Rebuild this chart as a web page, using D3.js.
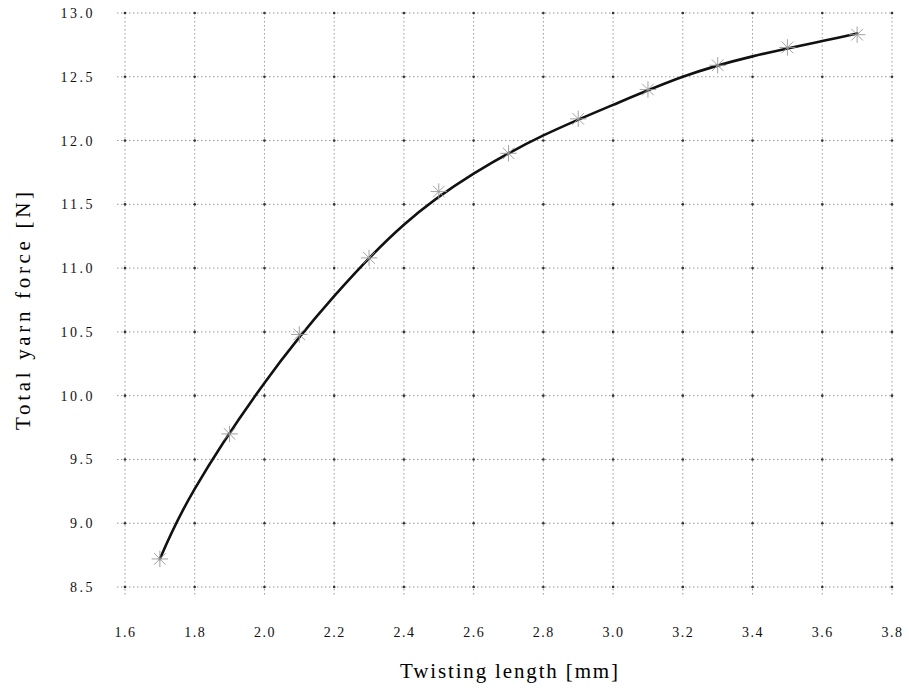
<!DOCTYPE html>
<html>
<head>
<meta charset="utf-8">
<script src="https://cdn.jsdelivr.net/npm/d3@7"></script>
<style>
  html, body { margin: 0; padding: 0; background: #fff; }
  svg { display: block; }
</style>
</head>
<body>
<svg id="chart" width="909" height="690"></svg>
<script>
// ---- data ----
const xTicks = [1.6, 1.8, 2.0, 2.2, 2.4, 2.6, 2.8, 3.0, 3.2, 3.4, 3.6, 3.8];
const yTicks = [8.5, 9.0, 9.5, 10.0, 10.5, 11.0, 11.5, 12.0, 12.5, 13.0];
// measured points (asterisk markers)
const markerX = [1.7, 1.9, 2.1, 2.3, 2.5, 2.7, 2.9, 3.1, 3.3, 3.5, 3.7];
const markerY = [8.72, 9.70, 10.48, 11.08, 11.60, 11.90, 12.17, 12.40, 12.59, 12.73, 12.83];
// smooth fitted curve
const curveX = [1.7, 1.8, 2.0, 2.2, 2.4, 2.6, 2.8, 3.0, 3.2, 3.4, 3.6, 3.7];
const curveY = [8.72, 9.27, 10.10, 10.78, 11.34, 11.74, 12.04, 12.28, 12.50, 12.66, 12.78, 12.84];
const xTitle = "Twisting length [mm]";
const yTitle = "Total yarn force [N]";

const FONT = "'Liberation Serif', 'Times New Roman', Times, 'DejaVu Serif', serif";

// ---- layout ----
const svg = d3.select("#chart");
const x = d3.scaleLinear().domain([1.6, 3.8]).range([125, 892]);
const y = d3.scaleLinear().domain([8.5, 13.0]).range([587, 13]);
const fmt = d3.format(".1f");

const grid = svg.append("g");
grid.selectAll("line.h").data(yTicks).join("line")
  .attr("x1", x.range()[0] - 8).attr("x2", x.range()[1])
  .attr("y1", d => y(d)).attr("y2", d => y(d))
  .attr("stroke", "#9a9a9a").attr("stroke-width", 1)
  .attr("stroke-dasharray", "1.5,2.5");
grid.selectAll("line.v").data(xTicks).join("line")
  .attr("y1", y.range()[1]).attr("y2", y.range()[0] + 8)
  .attr("x1", d => x(d)).attr("x2", d => x(d))
  .attr("stroke", "#9a9a9a").attr("stroke-width", 1)
  .attr("stroke-dasharray", "1.5,2.5");
const inter = [];
xTicks.forEach(a => yTicks.forEach(b => inter.push([a, b])));
grid.selectAll("circle.i").data(inter).join("circle")
  .attr("cx", d => x(d[0])).attr("cy", d => y(d[1])).attr("r", 1.3)
  .attr("fill", "#333");

const xAxis = d3.axisBottom(x).tickValues(xTicks).tickFormat(fmt).tickSize(0).tickPadding(0);
const gx = svg.append("g").attr("transform", `translate(0,${y.range()[0] + 46})`).call(xAxis);
gx.attr("font-family", null);
gx.select(".domain").remove();
gx.selectAll("text").style("font-family", FONT).style("font-size", "14px")
  .attr("letter-spacing", 1.5).attr("fill", "#111").attr("dy", "0.3em");

const yAxis = d3.axisLeft(y).tickValues(yTicks).tickFormat(fmt).tickSize(0).tickPadding(0);
const gy = svg.append("g").attr("transform", `translate(95,0)`).call(yAxis);
gy.attr("font-family", null);
gy.select(".domain").remove();
gy.selectAll("text").style("font-family", FONT).style("font-size", "14px")
  .attr("letter-spacing", 2.5).attr("fill", "#111");

// fitted curve
const line = d3.line().x((d, i) => x(curveX[i])).y(d => y(d)).curve(d3.curveNatural);
svg.append("path").datum(curveY).attr("d", line)
  .attr("fill", "none").attr("stroke", "#111").attr("stroke-width", 2.6)
  .attr("stroke-linecap", "round");

// asterisk markers
const mk = svg.append("g");
const plus = d3.symbol().type(d3.symbolPlus).size(90);
const times = d3.symbol().type(d3.symbolTimes).size(90);
markerY.forEach((v, i) => {
  const g = mk.append("g").attr("transform", `translate(${x(markerX[i])},${y(v)})`);
  g.append("path").attr("d", plus()).attr("fill", "none").attr("stroke", "#999").attr("stroke-width", 0.9);
  g.append("path").attr("d", times()).attr("fill", "none").attr("stroke", "#999").attr("stroke-width", 0.9);
});

// titles
svg.append("text").attr("x", 509).attr("y", 678).attr("text-anchor", "middle")
  .style("font-family", FONT).style("font-size", "21px").attr("fill", "#000")
  .attr("textLength", 218).attr("lengthAdjust", "spacing")
  .text(xTitle);
svg.append("text").attr("transform", "translate(30,311) rotate(-90)").attr("text-anchor", "middle")
  .style("font-family", FONT).style("font-size", "21px").attr("fill", "#000")
  .attr("textLength", 238).attr("lengthAdjust", "spacing")
  .text(yTitle);
</script>
</body>
</html>
